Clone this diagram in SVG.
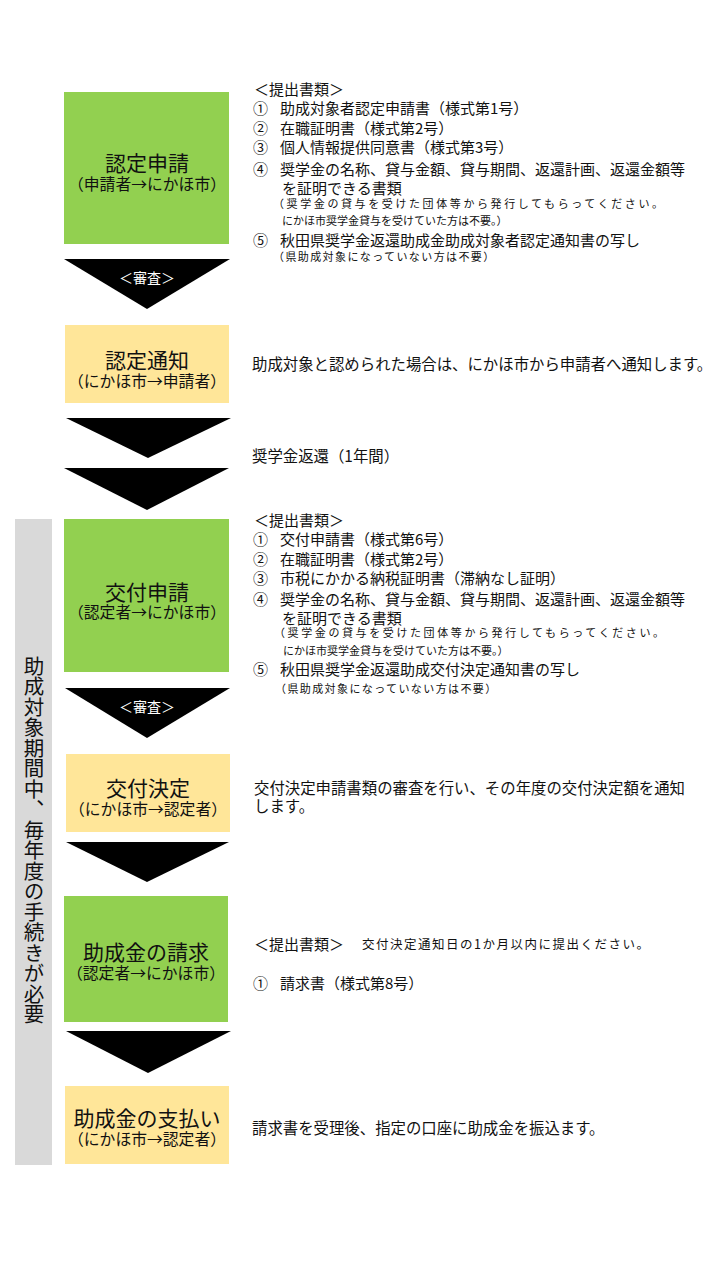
<svg xmlns="http://www.w3.org/2000/svg" width="720" height="1280" viewBox="0 0 720 1280">
<style>
text{font-family:"Noto Sans CJK JP","Noto Sans CJK SC",sans-serif;fill:#111;dominant-baseline:central}
.green{fill:#92D050}
.yellow{fill:#FFE699}
.bar{fill:#D9D9D9}
.arrow{fill:#000}
.node{text-anchor:middle}
.title{font-size:21px}
.sub{font-size:15.8px}
.rev{font-size:14px;text-anchor:middle;fill:#fff}
.t{font-size:15px}
.d{font-size:15.4px}
.s{font-size:11px}
.vert{font-size:20.5px;text-anchor:middle;writing-mode:vertical-rl}
</style>
<rect width="720" height="1280" fill="#fff"/>
<g id="period-bar">
<rect class="bar" x="15" y="519" width="37" height="646"/>
<text class="vert" x="34" y="840">助成対象期間中、毎年度の手続きが必要</text>
</g>
<g id="connectors">
<polygon class="arrow" points="64,259 230,259 147,309"/>
<text class="rev" x="147" y="277">＜審査＞</text>
<polygon class="arrow" points="66,418 231,418 148,458"/>
<polygon class="arrow" points="64,468 229,468 147,510"/>
<polygon class="arrow" points="65,688 230,688 147,738"/>
<text class="rev" x="147" y="706">＜審査＞</text>
<polygon class="arrow" points="66,842 229,842 147,882"/>
<polygon class="arrow" points="66,1031 231,1031 148,1073"/>
</g>
<g id="node-nintei-shinsei">
<rect class="green" x="64" y="92" width="165" height="152"/>
<text class="node" x="147" y="162"><tspan class="title">認定申請</tspan><tspan class="sub" x="147" dy="21">（申請者→にかほ市）</tspan></text>
</g>
<g id="node-nintei-tsuchi">
<rect class="yellow" x="65" y="325" width="164" height="78"/>
<text class="node" x="147" y="359"><tspan class="title">認定通知</tspan><tspan class="sub" x="147" dy="21">（にかほ市→申請者）</tspan></text>
</g>
<g id="node-kofu-shinsei">
<rect class="green" x="64" y="519" width="165" height="153"/>
<text class="node" x="147" y="591"><tspan class="title">交付申請</tspan><tspan class="sub" x="147" dy="20">（認定者→にかほ市）</tspan></text>
</g>
<g id="node-kofu-kettei">
<rect class="yellow" x="66" y="754" width="164" height="78"/>
<text class="node" x="148" y="787"><tspan class="title">交付決定</tspan><tspan class="sub" x="148" dy="21">（にかほ市→認定者）</tspan></text>
</g>
<g id="node-seikyu">
<rect class="green" x="64" y="896" width="164" height="126"/>
<text class="node" x="146" y="951"><tspan class="title">助成金の請求</tspan><tspan class="sub" x="146" dy="21">（認定者→にかほ市）</tspan></text>
</g>
<g id="node-shiharai">
<rect class="yellow" x="65" y="1086" width="164" height="78"/>
<text class="node" x="147" y="1117"><tspan class="title">助成金の支払い</tspan><tspan class="sub" x="147" dy="21">（にかほ市→認定者）</tspan></text>
</g>
<g id="notes-nintei-shinsei">
<text class="t" x="254" y="88">＜提出書類＞</text>
<text class="t" x="253" y="107">①</text><text class="t" x="280" y="107">助成対象者認定申請書（様式第1号）</text>
<text class="t" x="253" y="127">②</text><text class="t" x="280" y="127">在職証明書（様式第2号）</text>
<text class="t" x="253" y="146">③</text><text class="t" x="280" y="146">個人情報提供同意書（様式第3号）</text>
<text class="t" x="253" y="168">④</text><text class="t" x="280" y="168">奨学金の名称、貸与金額、貸与期間、返還計画、返還金額等</text>
<text class="t" x="282" y="187">を証明できる書類</text>
<text class="s" x="273" y="203" letter-spacing="2.6">（奨学金の貸与を受けた団体等から発行してもらってください。</text>
<text class="s" x="282" y="220">にかほ市奨学金貸与を受けていた方は不要。）</text>
<text class="t" x="253" y="239">⑤</text><text class="t" x="280" y="239">秋田県奨学金返還助成金助成対象者認定通知書の写し</text>
<text class="s" x="273" y="256" letter-spacing="1.4">（県助成対象になっていない方は不要）</text>
</g>
<g id="notes-nintei-tsuchi">
<text class="d" x="252" y="363">助成対象と認められた場合は、にかほ市から申請者へ通知します。</text>
<text class="d" x="252" y="455">奨学金返還（1年間）</text>
</g>
<g id="notes-kofu-shinsei">
<text class="t" x="254" y="519">＜提出書類＞</text>
<text class="t" x="253" y="538">①</text><text class="t" x="280" y="538">交付申請書（様式第6号）</text>
<text class="t" x="253" y="558">②</text><text class="t" x="280" y="558">在職証明書（様式第2号）</text>
<text class="t" x="253" y="577">③</text><text class="t" x="280" y="577">市税にかかる納税証明書（滞納なし証明）</text>
<text class="t" x="253" y="598">④</text><text class="t" x="280" y="598">奨学金の名称、貸与金額、貸与期間、返還計画、返還金額等</text>
<text class="t" x="282" y="617">を証明できる書類</text>
<text class="s" x="274" y="632" letter-spacing="2.6">（奨学金の貸与を受けた団体等から発行してもらってください。</text>
<text class="s" x="283" y="650">にかほ市奨学金貸与を受けていた方は不要。）</text>
<text class="t" x="253" y="668">⑤</text><text class="t" x="280" y="668">秋田県奨学金返還助成交付決定通知書の写し</text>
<text class="s" x="275" y="688" letter-spacing="1.4">（県助成対象になっていない方は不要）</text>
</g>
<g id="notes-kofu-kettei">
<text class="d" x="254" y="787">交付決定申請書類の審査を行い、その年度の交付決定額を通知</text>
<text class="d" x="254" y="805">します。</text>
</g>
<g id="notes-seikyu">
<text class="t" x="254" y="943">＜提出書類＞</text>
<text x="362" y="943" font-size="12.5" letter-spacing="1.5">交付決定通知日の1か月以内に提出ください。</text>
<text class="t" x="253" y="982">①</text><text class="t" x="280" y="982">請求書（様式第8号）</text>
</g>
<g id="notes-shiharai">
<text class="d" x="252" y="1127">請求書を受理後、指定の口座に助成金を振込ます。</text>
</g>
</svg>
